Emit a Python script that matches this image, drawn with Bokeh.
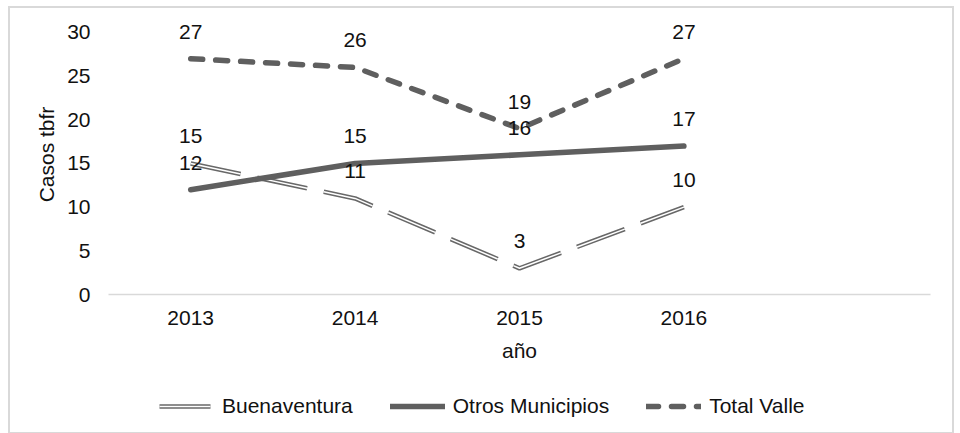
from bokeh.plotting import figure
from bokeh.layouts import column
from bokeh.models import Range1d, Legend, LegendItem, FixedTicker
from bokeh.core.properties import value
from bokeh.embed import file_html
from bokeh.resources import INLINE

years = ["2013", "2014", "2015", "2016"]
n_slots = 5
buenaventura = [15, 11, 3, 10]
otros = [12, 15, 16, 17]
total_valle = [27, 26, 19, 27]
y_ticks = [0, 5, 10, 15, 20, 25, 30]
series_names = ["Buenaventura", "Otros Municipios", "Total Valle"]

xs = [i + 0.5 for i in range(len(years))]

FONT = "Liberation Sans"
FS = "21px"
TXT = "#111111"
GRAY = "#5f5f5f"
DGRAY = "#686868"


def draw_series(fig):
    b1 = fig.line(xs, buenaventura, line_color=DGRAY, line_width=4.6, line_dash="51 17")
    b2 = fig.line(xs, buenaventura, line_color="white", line_width=1.5, line_dash="51 17")
    o1 = fig.line(xs, otros, line_color=GRAY, line_width=5.5, line_cap="round", line_join="round")
    t1 = fig.line(xs, total_valle, line_color=GRAY, line_width=5.5, line_dash="12 13",
                  line_cap="round", line_join="round")
    return [[b1, b2], [o1], [t1]]


# ---------------- main chart ----------------
p = figure(frame_width=822, frame_height=280, x_range=Range1d(0, n_slots),
           y_range=Range1d(0, 32.06), output_backend="svg", toolbar_location=None,
           min_border_left=98, min_border_right=22, min_border_top=6, min_border_bottom=72)
p.outline_line_color = None
p.xgrid.grid_line_color = None
p.ygrid.grid_line_color = None

p.yaxis.ticker = FixedTicker(ticks=y_ticks)
p.yaxis.axis_line_color = None
p.yaxis.major_tick_line_color = None
p.yaxis.minor_tick_line_color = None
p.yaxis.major_tick_out = 0
p.yaxis.major_label_standoff = 18
p.yaxis.axis_label = "Casos tbfr"
p.yaxis.axis_label_standoff = 6
p.yaxis.axis_label_text_font_style = "normal"

p.xaxis.ticker = FixedTicker(ticks=xs)
p.xaxis.major_label_overrides = {x: y for x, y in zip(xs, years)}
p.xaxis.axis_line_color = "#d9d9d9"
p.xaxis.axis_line_width = 1.5
p.xaxis.major_tick_line_color = None
p.xaxis.minor_tick_line_color = None
p.xaxis.major_tick_out = 0
p.xaxis.major_label_standoff = 16
p.xaxis.axis_label = "año"
p.xaxis.axis_label_standoff = 11
p.xaxis.axis_label_text_font_style = "normal"

for ax in (p.xaxis[0], p.yaxis[0]):
    ax.major_label_text_font = FONT
    ax.major_label_text_font_size = FS
    ax.major_label_text_color = TXT
    ax.axis_label_text_font = FONT
    ax.axis_label_text_font_size = FS
    ax.axis_label_text_color = TXT

draw_series(p)

for vals in (buenaventura, otros, total_valle):
    p.text(xs, vals, text=[str(v) for v in vals], y_offset=-27,
           text_align="center", text_baseline="middle",
           text_font=value(FONT), text_font_size=FS, text_color=TXT)

# ---------------- legend strip ----------------
lg = figure(width=942, height=66, x_range=Range1d(0, n_slots), y_range=Range1d(-100, -50),
            output_backend="svg", toolbar_location=None,
            x_axis_location=None, y_axis_location=None,
            min_border_left=0, min_border_right=0, min_border_top=0, min_border_bottom=0)
lg.outline_line_color = None
lg.xgrid.visible = False
lg.ygrid.visible = False
groups = draw_series(lg)
for g in groups:
    for r in g:
        r.visible = False

legend = Legend(items=[LegendItem(label=name, renderers=g) for name, g in zip(series_names, groups)],
                orientation="horizontal", location=(51, 14),
                glyph_width=55, glyph_height=20, label_standoff=8, spacing=37,
                padding=0, margin=0, border_line_alpha=0, background_fill_alpha=0,
                inactive_fill_alpha=0,
                label_text_font=FONT, label_text_font_size=FS, label_text_color=TXT)
lg.add_layout(legend, "center")

layout = column(p, lg, spacing=0,
                styles={"border": "2px solid #d9d9d9", "margin-left": "8px", "margin-top": "6px"})

open("out.html", "w").write(file_html(layout, INLINE))
